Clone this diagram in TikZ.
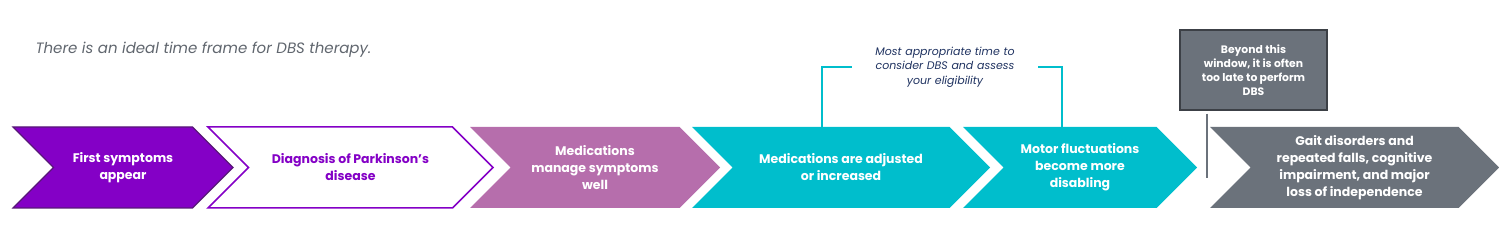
\documentclass[tikz,border=0pt]{standalone}
\usepackage{fontspec}
\setmainfont{Poppins}
\usepackage{xcolor}
\usetikzlibrary{shapes.symbols}
\definecolor{dbspurple}{RGB}{132,0,198}
\definecolor{dbsdark}{RGB}{88,24,120}
\definecolor{dbsmauve}{RGB}{182,110,172}
\definecolor{dbscyan}{RGB}{0,190,204}
\definecolor{dbsgray}{RGB}{107,114,123}
\definecolor{dbsedge}{RGB}{60,64,70}
\definecolor{dbsnavy}{RGB}{31,50,96}
\definecolor{dbstitle}{RGB}{96,102,110}

\begin{document}
\begin{tikzpicture}[x=1pt, y=-1pt,
  stage/.style={signal, signal to=east, signal from=west, signal pointer angle=90, minimum height=81pt, inner sep=0pt, align=center, text=white, font=\bfseries\fontsize{12.5}{17}\selectfont},
  note/.style={align=center, text width=160pt, inner sep=0pt, text=dbsnavy, font=\itshape\fontsize{11}{14.5}\selectfont},
  latebox/.style={rectangle, draw=dbsedge, line width=1.5pt, fill=dbsgray, minimum width=147pt, minimum height=80pt, align=center, text=white, font=\bfseries\fontsize{10.8}{14}\selectfont},
  bracket/.style={draw=dbscyan, line width=2.2pt},
  cutline/.style={draw=dbsgray, line width=2.5pt}]

  \useasboundingbox (0,0) rectangle (1499,237);

  \node[anchor=west, text=dbstitle, font=\itshape\fontsize{15}{17}\selectfont] (title) at (32,50) {There is an ideal time frame for DBS therapy.};

  \node[stage, fill=dbspurple, draw=dbsdark, line width=1.2pt, minimum width=220pt] (first) at (123,167.5) {First symptoms\\appear};
  \node[stage, fill=white, draw=dbspurple, line width=1.5pt, text=dbspurple, minimum width=285pt] (diag) at (350.5,167.5) {Diagnosis of Parkinson's\\disease};
  \node[stage, fill=dbsmauve, minimum width=250pt] (manage) at (595,167.5) {Medications\\manage symptoms\\well};
  \node[stage, fill=dbscyan, minimum width=298pt] (adjust) at (841,167.5) {Medications are adjusted\\or increased};
  \node[stage, fill=dbscyan, minimum width=234pt] (motor) at (1080,167.5) {Motor fluctuations\\become more\\disabling};
  \node[stage, fill=dbsgray, minimum width=289pt] (gait) at (1354.5,167.5) {Gait disorders and\\repeated falls, cognitive\\impairment, and major\\loss of independence};

  \node[note, minimum width=186pt] (window) at (945,67) {Most appropriate time to\\consider DBS and assess\\your eligibility};
  \node[latebox] (late) at (1253.5,70) {Beyond this\\window, it is often\\too late to perform\\DBS};

  \coordinate (cut) at (1207,178);

  \draw[bracket] (window.west) -| ([xshift=-19pt]adjust.north);
  \draw[bracket] (window.east) -| ([xshift=-18pt]motor.north);
  \draw[cutline] ([yshift=-3pt]late.south -| cut) -- (cut);
\end{tikzpicture}
\end{document}
